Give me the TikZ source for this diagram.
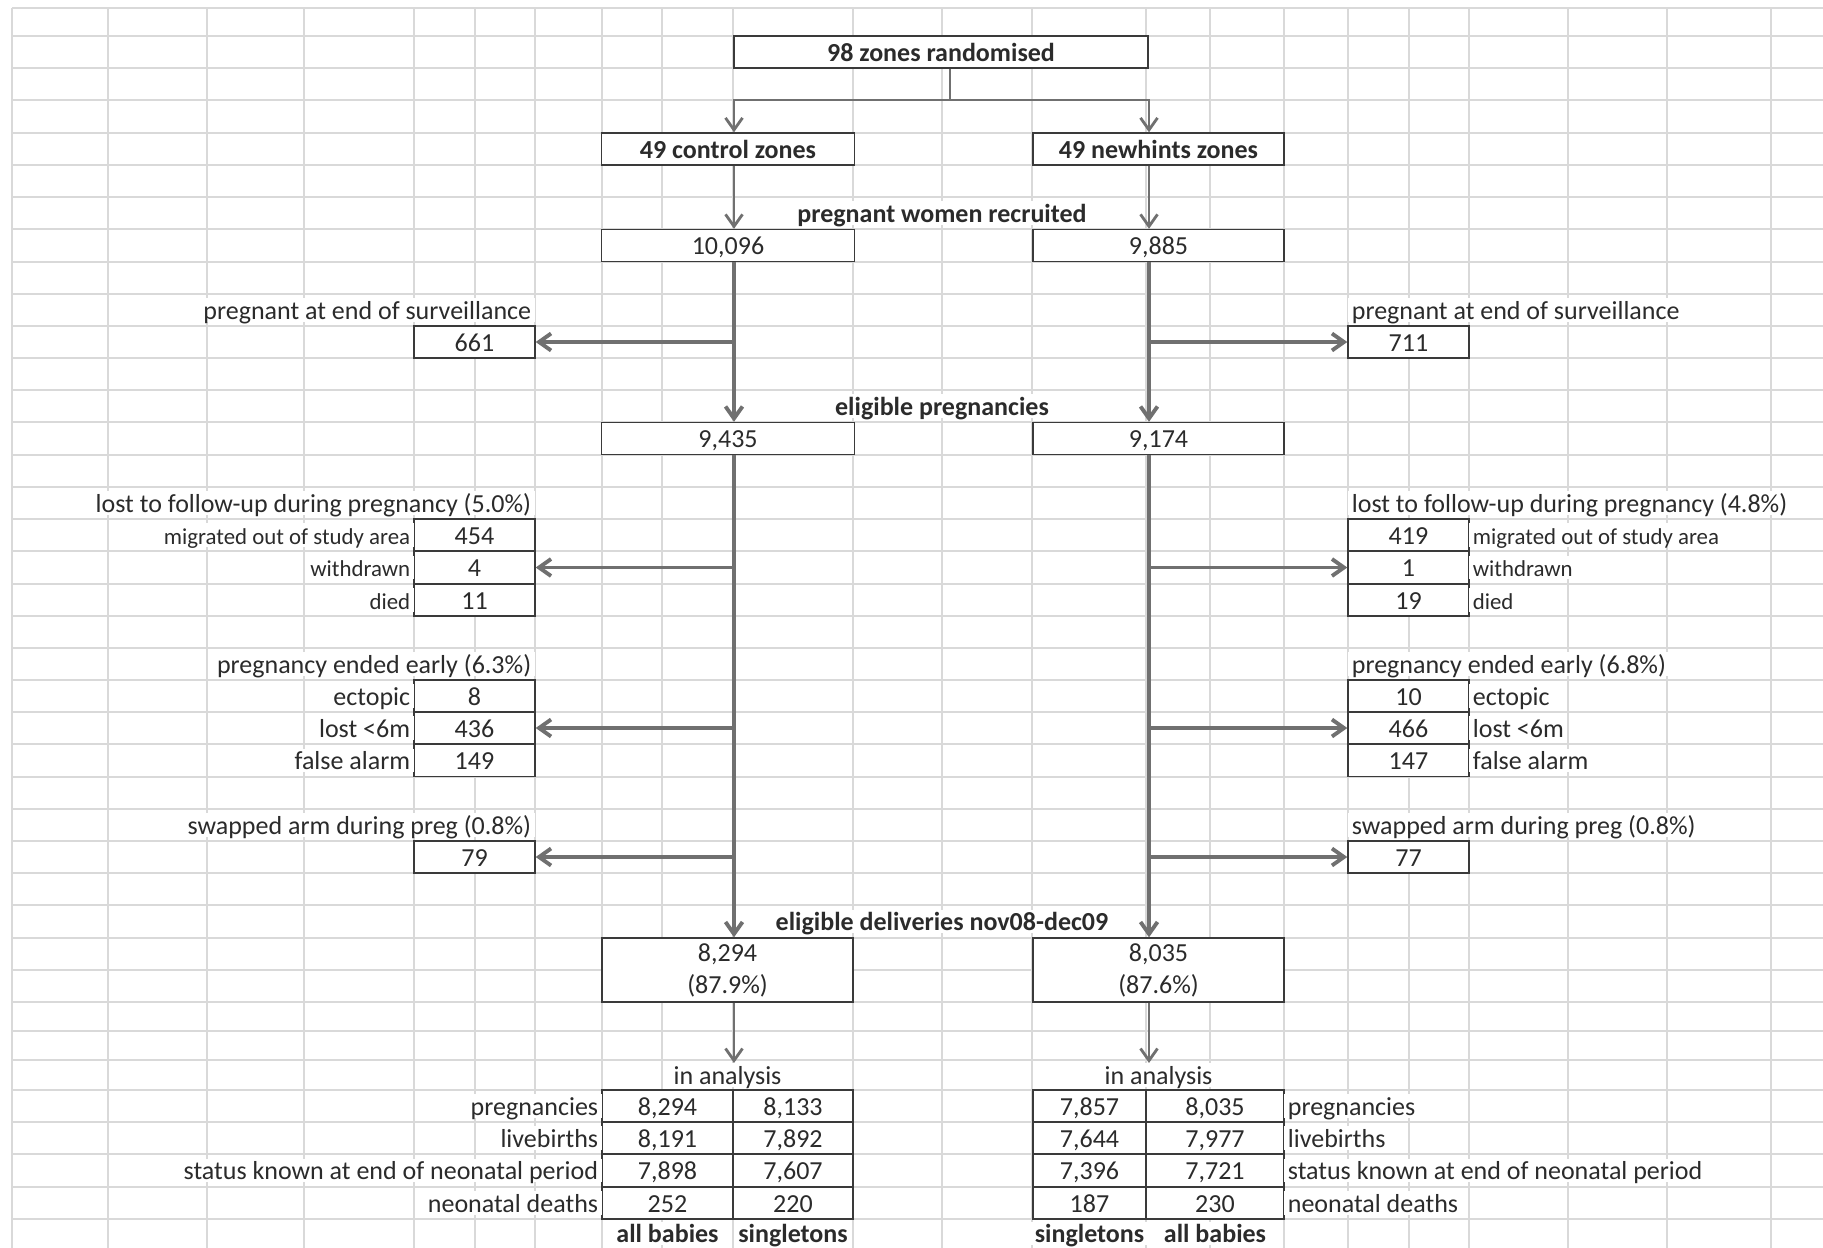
\documentclass[tikz,border=0pt]{standalone}
\usepackage{fontspec}
\setmainfont{Carlito}
\usepackage{tikz}
\usetikzlibrary{arrows.meta}
\newcommand{\pxl}{0.02cm}
\newcommand{\normale}{\fontsize{14.8}{18.2}\selectfont}
\newcommand{\piccolo}{\fontsize{13}{15}\selectfont}
\definecolor{freccol}{HTML}{707070}
\definecolor{bordo}{HTML}{3A3A3A}
\definecolor{testo}{HTML}{2B2B2B}
\definecolor{grigliacol}{HTML}{D9D9D9}
\tikzset{
	>={Straight Barb[length=2.4mm, width=3.4mm]},
	% cella con bordo (una riga)
	cella/.style={draw=bordo, line width=0.8pt, fill=white, inner sep=0pt, minimum height=32*\pxl,
	              text=testo, font=\normale, text height=12pt, text depth=1.3pt},
	% cella con bordo (due righe)
	cella2/.style={draw=bordo, line width=0.8pt, fill=white, inner sep=0pt, minimum height=64*\pxl,
	               align=center, text=testo, font=\normale},
	% testo libero sopra la griglia
	etich/.style={fill=white, inner xsep=2pt, inner ysep=0pt, text=testo, font=\normale,
	              text height=12pt, text depth=1.3pt},
	titolo/.style={etich, font=\normale\bfseries},
	% collegamenti
	filo/.style={draw=freccol, line width=1.6pt},
	ramo/.style={->, draw=freccol, line width=2.2pt},
	% griglia del foglio
	griglia/.style={grigliacol, line width=0.6pt},
}

\begin{document}
\begin{tikzpicture}[x=0.02cm, y=-0.02cm]
    \path[fill=white, use as bounding box] (0,0) rectangle (1823,1248);

    % griglia
    \foreach \gy in {8,36,68,100,133,165,197,229,262,294,326,358,390,422,455,487,519,551,584,616,648,680,712,744,777,809,841,873,905,938,970,1002,1031,1060,1090,1122,1154,1187,1219}
      \draw[griglia] (12,\gy) -- (1823,\gy);
    \foreach \gx in {12,108,207,304,414,475,535,602,662,733,853,942,1032,1146,1210,1284,1348,1409,1469,1568,1667,1771}
      \draw[griglia] (\gx,8) -- (\gx,1248);

    % randomizzazione
    \node[cella, font=\normale\bfseries, minimum width=414*\pxl] (zone) at (941,52) {98 zones randomised};
    \node[cella, font=\normale\bfseries, minimum width=253*\pxl] (ctrl) at (728,149) {49 control zones};
    \node[cella, font=\normale\bfseries, minimum width=251*\pxl] (nwh) at (1158.5,149) {49 newhints zones};

    % reclutate
    \node[titolo] (reclt) at (942,213) {pregnant women recruited};
    \node[cella, minimum width=253*\pxl] (rec0) at (728,245.5) {10,096};
    \node[cella, minimum width=251*\pxl] (rec1) at (1158.5,245.5) {9,885};

    % incinte a fine sorveglianza
    \node[etich, anchor=east] (fine0t) at (535,310) {pregnant at end of surveillance};
    \node[cella, minimum width=121*\pxl] (fine0) at (474.5,342) {661};
    \node[etich, anchor=west] (fine1t) at (1348,310) {pregnant at end of surveillance};
    \node[cella, minimum width=121*\pxl] (fine1) at (1408.5,342) {711};

    % gravidanze eleggibili
    \node[titolo] (eligt) at (942,406) {eligible pregnancies};
    \node[cella, minimum width=253*\pxl] (elig0) at (728,438.5) {9,435};
    \node[cella, minimum width=251*\pxl] (elig1) at (1158.5,438.5) {9,174};

    % persi al follow-up
    \node[etich, anchor=east] (persi0t) at (535,503) {lost to follow-up during pregnancy (5.0\%)};
    \node[cella, minimum width=121*\pxl] (mig0) at (474.5,535) {454};
    \node[cella, minimum width=121*\pxl] (wit0) at (474.5,567.5) {4};
    \node[cella, minimum width=121*\pxl] (die0) at (474.5,600) {11};
    \node[etich, font=\piccolo, anchor=east] (mig0t) at (414,535) {migrated out of study area};
    \node[etich, font=\piccolo, anchor=east] (wit0t) at (414,567.5) {withdrawn};
    \node[etich, font=\piccolo, anchor=east] (die0t) at (414,600) {died};

    \node[etich, anchor=west] (persi1t) at (1348,503) {lost to follow-up during pregnancy (4.8\%)};
    \node[cella, minimum width=121*\pxl] (mig1) at (1408.5,535) {419};
    \node[cella, minimum width=121*\pxl] (wit1) at (1408.5,567.5) {1};
    \node[cella, minimum width=121*\pxl] (die1) at (1408.5,600) {19};
    \node[etich, font=\piccolo, anchor=west] (mig1t) at (1469,535) {migrated out of study area};
    \node[etich, font=\piccolo, anchor=west] (wit1t) at (1469,567.5) {withdrawn};
    \node[etich, font=\piccolo, anchor=west] (die1t) at (1469,600) {died};

    % gravidanze concluse presto
    \node[etich, anchor=east] (early0t) at (535,664) {pregnancy ended early (6.3\%)};
    \node[cella, minimum width=121*\pxl] (ect0) at (474.5,696) {8};
    \node[cella, minimum width=121*\pxl] (los0) at (474.5,728) {436};
    \node[cella, minimum width=121*\pxl] (fal0) at (474.5,760.5) {149};
    \node[etich, anchor=east] (ect0t) at (414,696) {ectopic};
    \node[etich, anchor=east] (los0t) at (414,728) {lost <6m};
    \node[etich, anchor=east] (fal0t) at (414,760.5) {false alarm};

    \node[etich, anchor=west] (early1t) at (1348,664) {pregnancy ended early (6.8\%)};
    \node[cella, minimum width=121*\pxl] (ect1) at (1408.5,696) {10};
    \node[cella, minimum width=121*\pxl] (los1) at (1408.5,728) {466};
    \node[cella, minimum width=121*\pxl] (fal1) at (1408.5,760.5) {147};
    \node[etich, anchor=west] (ect1t) at (1469,696) {ectopic};
    \node[etich, anchor=west] (los1t) at (1469,728) {lost <6m};
    \node[etich, anchor=west] (fal1t) at (1469,760.5) {false alarm};

    % cambio di braccio
    \node[etich, anchor=east] (sw0t) at (535,825) {swapped arm during preg (0.8\%)};
    \node[cella, minimum width=121*\pxl] (sw0) at (474.5,857) {79};
    \node[etich, anchor=west] (sw1t) at (1348,825) {swapped arm during preg (0.8\%)};
    \node[cella, minimum width=121*\pxl] (sw1) at (1408.5,857) {77};

    % parti eleggibili
    \node[titolo] (partt) at (942,921.5) {eligible deliveries nov08-dec09};
    \node[cella2, minimum width=251*\pxl] (part0) at (727.5,970) {8,294\\(87.9\%)};
    \node[cella2, minimum width=251*\pxl] (part1) at (1158.5,970) {8,035\\(87.6\%)};

    % in analisi, controllo
    \node[etich] (anal0t) at (727.5,1075) {in analysis};
    \node[cella, minimum width=131*\pxl] (t0a1) at (667.5,1106) {8,294};
    \node[cella, minimum width=120*\pxl] (t0b1) at (793,1106) {8,133};
    \node[cella, minimum width=131*\pxl] (t0a2) at (667.5,1138) {8,191};
    \node[cella, minimum width=120*\pxl] (t0b2) at (793,1138) {7,892};
    \node[cella, minimum width=131*\pxl] (t0a3) at (667.5,1170.5) {7,898};
    \node[cella, minimum width=120*\pxl] (t0b3) at (793,1170.5) {7,607};
    \node[cella, minimum width=131*\pxl] (t0a4) at (667.5,1203) {252};
    \node[cella, minimum width=120*\pxl] (t0b4) at (793,1203) {220};
    \node[etich, anchor=east] (r0t1) at (602,1106) {pregnancies};
    \node[etich, anchor=east] (r0t2) at (602,1138) {livebirths};
    \node[etich, anchor=east] (r0t3) at (602,1170.5) {status known at end of neonatal period};
    \node[etich, anchor=east] (r0t4) at (602,1203) {neonatal deaths};
    \node[titolo] (c0a) at (667.5,1233.5) {all babies};
    \node[titolo] (c0b) at (793,1233.5) {singletons};

    % in analisi, newhints
    \node[etich] (anal1t) at (1158.5,1075) {in analysis};
    \node[cella, minimum width=113*\pxl] (t1a1) at (1089.5,1106) {7,857};
    \node[cella, minimum width=138*\pxl] (t1b1) at (1215,1106) {8,035};
    \node[cella, minimum width=113*\pxl] (t1a2) at (1089.5,1138) {7,644};
    \node[cella, minimum width=138*\pxl] (t1b2) at (1215,1138) {7,977};
    \node[cella, minimum width=113*\pxl] (t1a3) at (1089.5,1170.5) {7,396};
    \node[cella, minimum width=138*\pxl] (t1b3) at (1215,1170.5) {7,721};
    \node[cella, minimum width=113*\pxl] (t1a4) at (1089.5,1203) {187};
    \node[cella, minimum width=138*\pxl] (t1b4) at (1215,1203) {230};
    \node[etich, anchor=west] (r1t1) at (1284,1106) {pregnancies};
    \node[etich, anchor=west] (r1t2) at (1284,1138) {livebirths};
    \node[etich, anchor=west] (r1t3) at (1284,1170.5) {status known at end of neonatal period};
    \node[etich, anchor=west] (r1t4) at (1284,1203) {neonatal deaths};
    \node[titolo] (c1a) at (1089.5,1233.5) {singletons};
    \node[titolo] (c1b) at (1215,1233.5) {all babies};

    % collegamenti
    \coordinate (bivio) at (950,100);
    \coordinate (xL) at (734,0);
    \coordinate (xR) at (1149,0);
    \draw[filo] (zone.south -| bivio) -- (bivio);
    \draw[filo, ->] (bivio) -| (ctrl.north -| xL);
    \draw[filo, ->] (bivio) -| (nwh.north -| xR);
    \draw[filo, ->] (ctrl.south -| xL) -- (rec0.north -| xL);
    \draw[filo, ->] (nwh.south -| xR) -- (rec1.north -| xR);

    \draw[ramo] (rec0.south -| xL) -- (elig0.north -| xL);
    \draw[ramo] (rec1.south -| xR) -- (elig1.north -| xR);
    \draw[ramo] (elig0.south -| xL) -- (part0.north -| xL);
    \draw[ramo] (elig1.south -| xR) -- (part1.north -| xR);

    % uscite laterali
    \draw[ramo] (fine0.east -| xL) -- (fine0.east);
    \draw[ramo] (fine1.west -| xR) -- (fine1.west);
    \draw[ramo] (wit0.east -| xL) -- (wit0.east);
    \draw[ramo] (wit1.west -| xR) -- (wit1.west);
    \draw[ramo] (los0.east -| xL) -- (los0.east);
    \draw[ramo] (los1.west -| xR) -- (los1.west);
    \draw[ramo] (sw0.east -| xL) -- (sw0.east);
    \draw[ramo] (sw1.west -| xR) -- (sw1.west);

    % verso l'analisi
    \draw[filo, ->] (part0.south -| xL) -- (anal0t.north -| xL);
    \draw[filo, ->] (part1.south -| xR) -- (anal1t.north -| xR);
\end{tikzpicture}
\end{document}
